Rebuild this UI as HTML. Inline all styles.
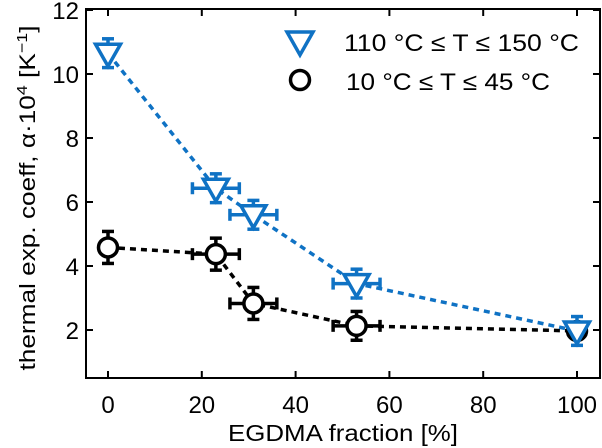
<!DOCTYPE html>
<html><head><meta charset="utf-8"><style>
html,body{margin:0;padding:0;background:#fff;}
svg{display:block;font-family:"Liberation Sans",sans-serif;}
</style></head><body>
<svg id="chart" width="602" height="448">
<rect x="86" y="9" width="514" height="369" fill="none" stroke="#000" stroke-width="2"/>
<g id="axes"></g>
<g id="series"></g>
<text x="35" y="198" font-size="22" text-anchor="middle" transform="rotate(-90 35 198)" textLength="345" lengthAdjust="spacingAndGlyphs">thermal exp. coeff, α·10<tspan dy="-8" font-size="15">4</tspan><tspan dy="8"> [K</tspan><tspan dy="-8" font-size="15">−1</tspan><tspan dy="8">]</tspan></text>
<text x="343" y="441" font-size="23" text-anchor="middle" textLength="230" lengthAdjust="spacingAndGlyphs">EGDMA fraction [%]</text>
<g>
<g>
<path d="M287,32 L313,32 L300,55 Z" fill="none" stroke="#0f72c4" stroke-width="3.5"/>
<text x="344" y="51" font-size="24" textLength="235" lengthAdjust="spacingAndGlyphs">110 °C ≤ T ≤  150 °C</text>
</g>
<g>
<circle cx="300" cy="80" r="9.5" fill="none" stroke="#000" stroke-width="3.5"/>
<text x="346" y="90" font-size="24" textLength="204" lengthAdjust="spacingAndGlyphs">10 °C ≤ T ≤  45 °C</text>
</g>
</g>
</svg>
<script>
const xTicks=[0,20,40,60,80,100];
const yTicks=[2,4,6,8,10,12];
const xVals=[0,23,31,53,100];
const xErr=[0,5,5,5,0];
const highVals=[10.65,6.43,5.6,3.45,1.97];
const highErr=[0.45,0.45,0.45,0.45,0.45];
const lowVals=[4.58,4.37,2.83,2.13,1.97];
const lowErr=[0.5,0.5,0.5,0.45,0.1];
const X=v=>108+(v)*4.69;
const Y=v=>10+(12-v)*32;
const NS="http://www.w3.org/2000/svg";
const ax=document.getElementById('axes'), sr=document.getElementById('series');
function mk(tag,attrs,parent){const e=document.createElementNS(NS,tag);for(const k in attrs)e.setAttribute(k,attrs[k]);parent.appendChild(e);return e;}
xTicks.forEach(t=>{
 const x=X(t);
 const l1=mk('line',{x1:x,x2:x,y1:378,y2:371,stroke:'#000','stroke-width':2},ax);
 
 
 mk('line',{x1:x,x2:x,y1:9,y2:16,stroke:'#000','stroke-width':2},ax);
 const tx=mk('text',{x:x,y:413,'font-size':24,'text-anchor':'middle'},ax);tx.textContent=t;
 
 
});
yTicks.forEach(t=>{
 const y=Y(t);
 const l1=mk('line',{x1:86,x2:93,y1:y,y2:y,stroke:'#000','stroke-width':2},ax);
 
 
 mk('line',{x1:600,x2:593,y1:y,y2:y,stroke:'#000','stroke-width':2},ax);
 const tx=mk('text',{x:79,y:y+9,'font-size':24,'text-anchor':'end'},ax);tx.textContent=t;
 
 
});
function series(vals,errs,color,kind,name){
 const pts=vals.map((v,i)=>X(xVals[i])+','+Y(v)).join(' ');
 const pl=mk('polyline',{points:pts,fill:'none',stroke:color,'stroke-width':3.5,'stroke-dasharray':'6 5'},sr);
 
 
 vals.forEach((v,i)=>{
  const g=mk('g',{stroke:color,'stroke-width':3.5,fill:'none'},sr);
  
  
  const x=X(xVals[i]),y=Y(v),ey=errs[i]*32,ex=xErr[i]*4.69;
  mk('line',{x1:x,x2:x,y1:y-ey,y2:y+ey},g);
  mk('line',{x1:x-6,x2:x+6,y1:y-ey,y2:y-ey},g);
  mk('line',{x1:x-6,x2:x+6,y1:y+ey,y2:y+ey},g);
  if(ex>0){
   mk('line',{x1:x-ex,x2:x+ex,y1:y,y2:y},g);
   mk('line',{x1:x-ex,x2:x-ex,y1:y-6,y2:y+6},g);
   mk('line',{x1:x+ex,x2:x+ex,y1:y-6,y2:y+6},g);
  }
  if(kind==='tri') mk('path',{d:`M${x-12.5},${y-9} L${x+12.5},${y-9} L${x},${y+13} Z`,fill:'#fff'},g);
  else mk('circle',{cx:x,cy:y,r:9.5,fill:'#fff'},g);
 });
}
series(lowVals,lowErr,'#000','circ','low-temp');
series(highVals,highErr,'#0f72c4','tri','high-temp');
</script>
</body></html>
